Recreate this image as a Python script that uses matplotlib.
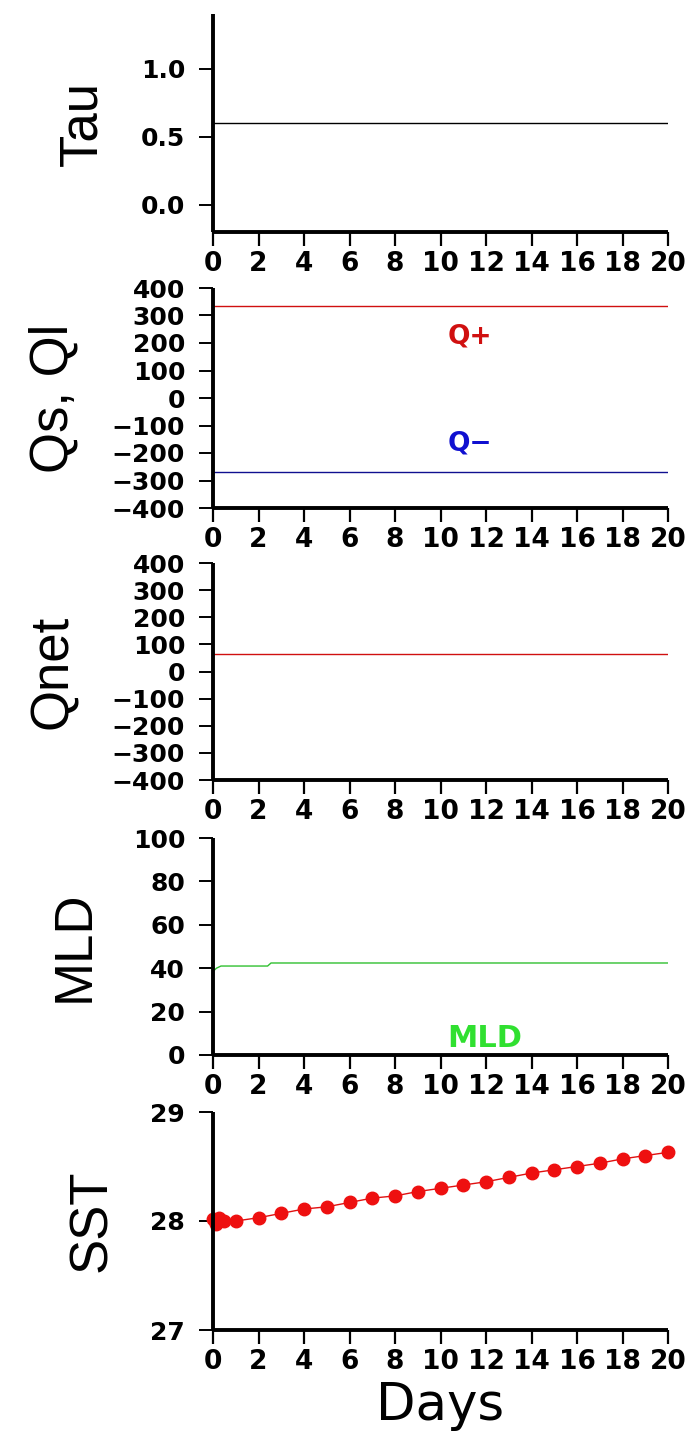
import matplotlib
matplotlib.use("Agg")
import matplotlib.pyplot as plt
from matplotlib import font_manager

# ---- data -------------------------------------------------------------
day_ticks = [0, 2, 4, 6, 8, 10, 12, 14, 16, 18, 20]

t_const = [0, 20]
tau = [0.6, 0.6]
qs = [335, 335]
ql = [-270, -270]
qnet = [65, 65]

t_mld = [0, 0.15, 0.35, 2.4, 2.55, 20]
mld = [38.5, 40.0, 41.0, 41.0, 42.4, 42.4]

t_sst = [0, 0.125, 0.25, 0.5, 1, 2, 3, 4, 5, 6, 7, 8, 9, 10,
         11, 12, 13, 14, 15, 16, 17, 18, 19, 20]
sst = [28.02, 27.97, 28.03, 28.00, 28.00, 28.03, 28.07, 28.11, 28.13, 28.17,
       28.21, 28.23, 28.27, 28.30, 28.33, 28.36, 28.40, 28.44, 28.47, 28.50,
       28.53, 28.57, 28.60, 28.63]

tau_ticks = [0.0, 0.5, 1.0]
tau_tick_labels = ["0.0", "0.5", "1.0"]
flux_ticks = [-400, -300, -200, -100, 0, 100, 200, 300, 400]
mld_ticks = [0, 20, 40, 60, 80, 100]
sst_ticks = [27, 28, 29]

# ---- fonts ------------------------------------------------------------
installed = {f.name for f in font_manager.fontManager.ttflist}
if "Liberation Sans Narrow" in installed:
    label_font, label_size = ["Liberation Sans Narrow", "DejaVu Sans"], 42
else:
    label_font, label_size = ["Liberation Sans", "DejaVu Sans"], 38
tick_font = "DejaVu Sans"

# ---- layout -----------------------------------------------------------
W, H = 691, 1445
fig = plt.figure(figsize=(W / 100, H / 100), dpi=100)
fig.patch.set_facecolor("white")

LEFT, RIGHT = 213, 668
panels = [(14, 232), (288, 508), (563, 780), (838, 1055), (1112, 1330)]


def make_axes(top, bottom):
    ax = fig.add_axes([LEFT / W, 1 - bottom / H, (RIGHT - LEFT) / W, (bottom - top) / H])
    for s in ("top", "right"):
        ax.spines[s].set_visible(False)
    for s in ("left", "bottom"):
        ax.spines[s].set_linewidth(2.8)
        ax.spines[s].set_capstyle("butt")
    ax.set_xlim(0, 20)
    ax.set_xticks(day_ticks)
    ax.set_xticklabels([str(d) for d in day_ticks])
    ax.tick_params(axis="x", direction="out", length=10, width=1.6, pad=4,
                   labelsize=19)
    ax.tick_params(axis="y", direction="out", length=10, width=1.4, pad=10,
                   labelsize=18)
    for lab in ax.get_xticklabels() + ax.get_yticklabels():
        lab.set_fontfamily(tick_font)
        lab.set_fontweight("bold")
    return ax


def ylabel(ax, text):
    ax.set_ylabel(text, fontsize=label_size, family=label_font, labelpad=24)


def signed(values):
    return [f"{v}".replace("-", "\u2212") for v in values]


# Tau
ax1 = make_axes(*panels[0])
ax1.plot(t_const, tau, color="black", lw=1.0)
ax1.set_ylim(-0.2, 1.4)
ax1.set_yticks(tau_ticks)
ax1.set_yticklabels(tau_tick_labels, family=tick_font, fontweight="bold")
ylabel(ax1, "Tau")

# Shortwave / longwave fluxes
ax2 = make_axes(*panels[1])
ax2.plot(t_const, qs, color="#d01010", lw=1.0)
ax2.plot(t_const, ql, color="#101090", lw=1.0)
ax2.set_ylim(-400, 400)
ax2.set_yticks(flux_ticks)
ax2.set_yticklabels(signed(flux_ticks), family=tick_font, fontweight="bold")
ax2.text(10.3, 222, "Q+", color="#d01010", fontsize=19, fontweight="bold",
         family=tick_font, va="center", ha="left")
ax2.text(10.3, -164, "Q\u2212", color="#1010d0", fontsize=19, fontweight="bold",
         family=tick_font, va="center", ha="left")
ylabel(ax2, "Qs, Ql")

# Net heat flux
ax3 = make_axes(*panels[2])
ax3.plot(t_const, qnet, color="#d01010", lw=1.0)
ax3.set_ylim(-400, 400)
ax3.set_yticks(flux_ticks)
ax3.set_yticklabels(signed(flux_ticks), family=tick_font, fontweight="bold")
ylabel(ax3, "Qnet")

# Mixed layer depth
ax4 = make_axes(*panels[3])
ax4.plot(t_mld, mld, color="#30c030", lw=1.0)
ax4.set_ylim(0, 100)
ax4.set_yticks(mld_ticks)
ax4.set_yticklabels([str(v) for v in mld_ticks], family=tick_font, fontweight="bold")
ax4.text(10.3, 1.0, "MLD", color="#30e030", fontsize=22, fontweight="bold",
         family=tick_font, va="bottom", ha="left", zorder=2)
ylabel(ax4, "MLD")

# Sea surface temperature
ax5 = make_axes(*panels[4])
ax5.plot(t_sst, sst, color="#e01010", lw=1.0, marker="o", markersize=9,
         markerfacecolor="#ee1010", markeredgecolor="#ee1010", clip_on=False)
ax5.set_ylim(27, 29)
ax5.set_yticks(sst_ticks)
ax5.set_yticklabels([str(v) for v in sst_ticks], family=tick_font, fontweight="bold")
ylabel(ax5, "SST")
ax5.set_xlabel("Days", fontsize=37, family=["DejaVu Sans"], labelpad=4)

fig.savefig("out.png", dpi=100, facecolor="white")
